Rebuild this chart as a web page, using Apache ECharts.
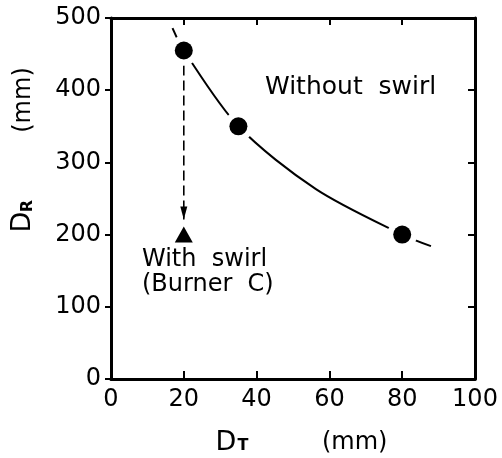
<!DOCTYPE html>
<html>
<head>
<meta charset="utf-8">
<script src="https://cdn.jsdelivr.net/npm/echarts@6/dist/echarts.min.js"></script>
<style>
html,body{margin:0;padding:0;background:#fff;}
#chart{width:502px;height:458px;}
</style>
</head>
<body>
<div id="chart"></div>
<script>
// Tick values
const xTicks = [0, 20, 40, 60, 80, 100];
const yTicks = [0, 100, 200, 300, 400, 500];
// Measured points, without swirl (D_T, D_R)
const noSwirlX = [20, 35, 80];
const noSwirlY = [455, 350, 200];
// With swirl (Burner C)
const swirlX = [20];
const swirlY = [200];
// Fitted curve through the no-swirl points
const curveX = [16.9, 20, 35, 56.3, 80, 87.9];
const curveY = [486, 455, 350, 263, 200, 184];
// Dashed arrow from no-swirl point down to swirl point
const arrowX = [20, 20];
const arrowY = [455, 221];

const FONT = 'DejaVu Sans';
const chart = echarts.init(document.getElementById('chart'), null, {renderer: 'canvas'});

const axisLine = {show: true, onZero: false, lineStyle: {color: '#000', width: 3}};
const option = {
  animation: false,
  backgroundColor: '#fff',
  grid: {left: 111, right: 27, top: 18, bottom: 79, containLabel: false},
  xAxis: [
    {type: 'value', position: 'bottom', min: xTicks[0], max: xTicks[xTicks.length - 1], interval: 20,
     axisLine: axisLine, splitLine: {show: false},
     axisTick: {show: true, inside: true, length: 8, lineStyle: {color: '#000', width: 2}},
     axisLabel: {show: true, color: '#000', fontFamily: FONT, fontSize: 24, margin: 9}},
    {type: 'value', position: 'top', min: xTicks[0], max: xTicks[xTicks.length - 1], interval: 20,
     axisLine: axisLine, splitLine: {show: false},
     axisTick: {show: true, inside: true, length: 7, lineStyle: {color: '#000', width: 2}},
     axisLabel: {show: false}}
  ],
  yAxis: [
    {type: 'value', position: 'left', min: yTicks[0], max: yTicks[yTicks.length - 1], interval: 100,
     axisLine: axisLine, splitLine: {show: false},
     axisTick: {show: true, inside: false, length: 6, lineStyle: {color: '#000', width: 2}},
     axisLabel: {show: true, color: '#000', fontFamily: FONT, fontSize: 24, margin: 10}},
    {type: 'value', position: 'right', min: yTicks[0], max: yTicks[yTicks.length - 1], interval: 100,
     axisLine: axisLine, splitLine: {show: false},
     axisTick: {show: true, inside: true, length: 7, lineStyle: {color: '#000', width: 2}},
     axisLabel: {show: false}}
  ],
  series: [
    {type: 'line', name: 'curve', xAxisIndex: 0, yAxisIndex: 0, z: 2,
     data: curveX.map((x, i) => [x, curveY[i]]),
     smooth: 0.3, showSymbol: false, symbol: 'none',
     lineStyle: {color: '#000', width: 2}},
    {type: 'line', name: 'arrow', z: 2,
     data: arrowX.map((x, i) => [x, arrowY[i]]),
     showSymbol: false, symbol: 'none',
     lineStyle: {color: '#000', width: 1.6, type: [10, 5]}},
    {type: 'scatter', name: 'arrowhead', z: 4,
     data: [[arrowX[1], arrowY[1]]],
     symbol: 'path://M0,12 L-3,0 L3,0 Z', symbolSize: [7, 13], symbolOffset: [0, -6.5],
     itemStyle: {color: '#000', opacity: 1}},
    {type: 'scatter', name: 'halo', z: 3,
     data: noSwirlX.map((x, i) => [x, noSwirlY[i]]),
     symbol: 'circle', symbolSize: 30, itemStyle: {color: '#fff', opacity: 1}},
    {type: 'scatter', name: 'Without swirl', z: 5,
     data: noSwirlX.map((x, i) => [x, noSwirlY[i]]),
     symbol: 'circle', symbolSize: 18, itemStyle: {color: '#000', opacity: 1}},
    {type: 'scatter', name: 'With swirl', z: 5,
     data: swirlX.map((x, i) => [x, swirlY[i]]),
     symbol: 'triangle', symbolSize: [18, 16], itemStyle: {color: '#000', opacity: 1}}
  ],
  graphic: [
    {type: 'text', x: 265, y: 87, z: 10,
     style: {text: 'Without  swirl', font: '25px "DejaVu Sans"', fill: '#000', align: 'left', verticalAlign: 'middle'}},
    {type: 'text', x: 142, y: 260, z: 10,
     style: {text: 'With  swirl', font: '24px "DejaVu Sans"', fill: '#000', align: 'left', verticalAlign: 'middle'}},
    {type: 'text', x: 142, y: 285, z: 10,
     style: {text: '(Burner  C)', font: '24px "DejaVu Sans"', fill: '#000', align: 'left', verticalAlign: 'middle'}},
    // x axis name
    {type: 'text', x: 226, y: 443, z: 10,
     style: {text: 'D', font: '27px "DejaVu Sans"', fill: '#000', align: 'center', verticalAlign: 'middle'}},
    {type: 'text', x: 243, y: 446, z: 10,
     style: {text: 'T', font: 'bold 16px "DejaVu Sans"', fill: '#000', align: 'center', verticalAlign: 'middle'}},
    {type: 'text', x: 322, y: 443, z: 10,
     style: {text: '(mm)', font: '24px "DejaVu Sans"', fill: '#000', align: 'left', verticalAlign: 'middle'}},
    // y axis name (rotated)
    {type: 'text', x: 23, y: 222, rotation: Math.PI / 2, z: 10,
     style: {text: 'D', font: '27px "DejaVu Sans"', fill: '#000', align: 'center', verticalAlign: 'middle'}},
    {type: 'text', x: 28, y: 206, rotation: Math.PI / 2, z: 10,
     style: {text: 'R', font: 'bold 16px "DejaVu Sans"', fill: '#000', align: 'center', verticalAlign: 'middle'}},
    {type: 'text', x: 24, y: 100, rotation: Math.PI / 2, z: 10,
     style: {text: '(mm)', font: '24px "DejaVu Sans"', fill: '#000', align: 'center', verticalAlign: 'middle'}}
  ]
};
chart.setOption(option);
</script>
</body>
</html>
